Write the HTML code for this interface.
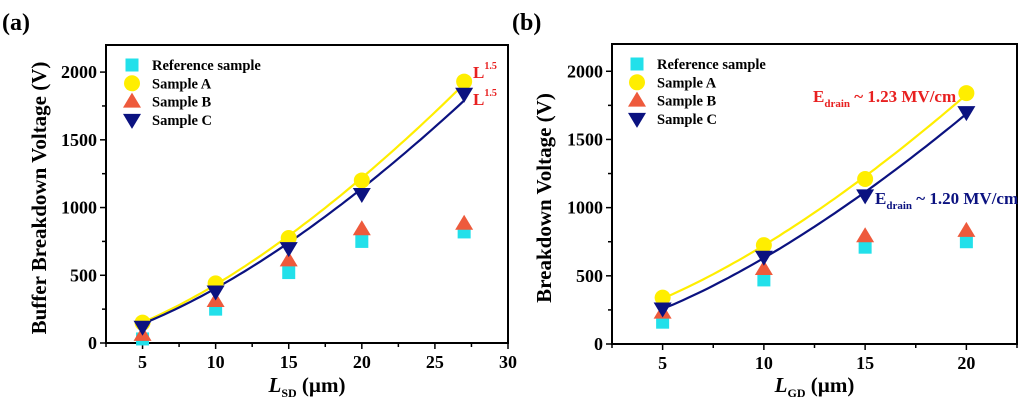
<!DOCTYPE html>
<html><head><meta charset="utf-8"><style>
body{margin:0;background:#fff;}
svg{display:block;font-family:"Liberation Serif",serif;font-weight:bold;}
</style></head><body>
<svg id="svg" width="1024" height="411" viewBox="0 0 1024 411" xmlns="http://www.w3.org/2000/svg">
<text x="2" y="30" font-size="24">(a)</text>
<text x="512" y="30" font-size="24">(b)</text>
</svg>
<script>
// Panel (a)
const xA = [5, 10, 15, 20, 27];
const refA = [30, 250, 520, 750, 820];
const sampleAA = [150, 440, 775, 1200, 1930];
const sampleBA = [60, 310, 610, 840, 880];
const sampleCA = [120, 380, 700, 1100, 1840];
const xTicksA = [5, 10, 15, 20, 25, 30];
// Panel (b)
const xB = [5, 10, 15, 20];
const refB = [160, 470, 710, 750];
const sampleAB = [340, 725, 1210, 1840];
const sampleBB = [230, 550, 790, 830];
const sampleCB = [260, 640, 1090, 1700];
const xTicksB = [5, 10, 15, 20];
const yTicks = [0, 500, 1000, 1500, 2000];
const legendLabels = ['Reference sample', 'Sample A', 'Sample B', 'Sample C'];

const NS = 'http://www.w3.org/2000/svg';
const svg = document.getElementById('svg');
function mk(tag, attrs, parent, text) {
  const e = document.createElementNS(NS, tag);
  for (const k in attrs) e.setAttribute(k, attrs[k]);
  if (text !== undefined) e.textContent = text;
  (parent || svg).appendChild(e);
  return e;
}
const CYAN = '#22e0ea', YEL = '#ffee00', RED = '#ee5a3c', NAVY = '#0b1280';

function marker(g, type, cx, cy, name) {
  let e;
  if (type === 'sq') e = mk('rect', {x: cx - 6.5, y: cy - 6.5, width: 13, height: 13, fill: CYAN}, g);
  else if (type === 'ci') e = mk('circle', {cx: cx, cy: cy, r: 8, fill: YEL}, g);
  else if (type === 'up') e = mk('polygon', {points: `${cx},${cy - 9} ${cx - 9},${cy + 6} ${cx + 9},${cy + 6}`, fill: RED}, g);
  else e = mk('polygon', {points: `${cx - 9},${cy - 6} ${cx + 9},${cy - 6} ${cx},${cy + 9}`, fill: NAVY}, g);
  
  
  return e;
}

function fit(xs, ys, withB) {
  const u = xs.map(x => Math.pow(x, 1.5));
  if (!withB) {
    let num = 0, den = 0;
    u.forEach((v, i) => { num += v * ys[i]; den += v * v; });
    return {a: num / den, b: 0};
  }
  const n = u.length, mu = u.reduce((s, v) => s + v, 0) / n, my = ys.reduce((s, v) => s + v, 0) / n;
  let sxy = 0, sxx = 0;
  u.forEach((v, i) => { sxy += (v - mu) * (ys[i] - my); sxx += (v - mu) * (v - mu); });
  const a = sxy / sxx;
  return {a: a, b: my - a * mu};
}

function panel(o) {
  const g = mk('g', {});
  
  
  const X = v => o.L + (v - o.xmin) / (o.xmax - o.xmin) * (o.R - o.L);
  const Y = v => o.B - v / 2200 * (o.B - o.T);
  const frame = mk('rect', {x: o.L, y: o.T, width: o.R - o.L, height: o.B - o.T, fill: 'none', stroke: '#000', 'stroke-width': 2}, g);
  
  
  for (let v = o.xmin; v <= o.xmax + 0.01; v += 2.5) {
    const major = o.xTicks.includes(v);
    const t = mk('line', {x1: X(v), x2: X(v), y1: o.B, y2: o.B + (major ? 6 : 4), stroke: '#000', 'stroke-width': 1.5}, g);
    
    
  }
  o.xTicks.forEach(v => {
    const t = mk('text', {x: X(v), y: o.B + 25, 'font-size': 18, 'text-anchor': 'middle'}, g, v);
    
    
  });
  for (let v = 0; v <= 2200; v += 250) {
    const major = v % 500 === 0;
    const t = mk('line', {x1: o.L, x2: o.L - (major ? 6 : 4), y1: Y(v), y2: Y(v), stroke: '#000', 'stroke-width': 1.5}, g);
    
    
  }
  yTicks.forEach(v => {
    const t = mk('text', {x: o.L - 9, y: Y(v) + 6, 'font-size': 18, 'text-anchor': 'end'}, g, v);
    
    
  });
  const yt = mk('text', {x: 0, y: 0, 'font-size': 21, 'text-anchor': 'middle', transform: `translate(${o.yTitleX},${(o.T + o.B) / 2 + 4}) rotate(-90)`}, g, o.yTitle);
  
  
  const xt = mk('text', {x: (o.L + o.R) / 2, y: 392, 'font-size': 21, 'text-anchor': 'middle'}, g);
  
  
  mk('tspan', {'font-style': 'italic'}, xt, 'L');
  mk('tspan', {'font-size': 12, dy: 5}, xt, o.sub);
  mk('tspan', {dy: -5}, xt, ' (\u00b5m)');
  [[o.a, YEL, 'fit-curve-sample-a'], [o.c, NAVY, 'fit-curve-sample-c']].forEach(([ys, col, nm]) => {
    const f = fit(o.x, ys, o.withB);
    const x0 = o.x[0], x1 = o.x[o.x.length - 1];
    let d = '';
    for (let i = 0; i <= 60; i++) {
      const xv = x0 + (x1 - x0) * i / 60;
      d += (i ? 'L' : 'M') + X(xv).toFixed(1) + ',' + Y(f.a * Math.pow(xv, 1.5) + f.b).toFixed(1);
    }
    const p = mk('path', {d: d, fill: 'none', stroke: col, 'stroke-width': 2.2}, g);
    
    
  });
  o.x.forEach((xv, i) => {
    marker(g, 'sq', X(xv), Y(o.ref[i]), 'point-reference');
    marker(g, 'up', X(xv), Y(o.b[i]), 'point-sample-b');
    marker(g, 'ci', X(xv), Y(o.a[i]), 'point-sample-a');
    marker(g, 'dn', X(xv), Y(o.c[i]), 'point-sample-c');
  });
  const types = ['sq', 'ci', 'up', 'dn'];
  legendLabels.forEach((lab, i) => {
    const lg = mk('g', {}, g);
    
    
    const yy = o.legY + i * 18.3;
    marker(lg, types[i], o.legX, yy, 'legend-marker');
    const t = mk('text', {x: o.legX + 20, y: yy + 5, 'font-size': 14.5}, lg, lab);
    
    
  });
  return {X, Y, g};
}

const pa = panel({name: 'panel-a-chart', L: 106, R: 508, T: 45, B: 343, xmin: 2.5, xmax: 30, xTicks: xTicksA,
  x: xA, ref: refA, a: sampleAA, b: sampleBA, c: sampleCA, withB: false,
  yTitle: 'Buffer Breakdown Voltage (V)', yTitleX: 46, sub: 'SD', legX: 132, legY: 65});
const pb = panel({name: 'panel-b-chart', L: 612, R: 1017, T: 44, B: 344, xmin: 2.5, xmax: 22.5, xTicks: xTicksB,
  x: xB, ref: refB, a: sampleAB, b: sampleBB, c: sampleCB, withB: true,
  yTitle: 'Breakdown Voltage (V)', yTitleX: 551, sub: 'GD', legX: 637, legY: 64});

function ann(parent, x, y, main, sub, rest, col, name, supMode) {
  const t = mk('text', {x: x, y: y, 'font-size': 17, fill: col}, parent);
  
  
  mk('tspan', {}, t, main);
  if (supMode) { mk('tspan', {'font-size': 10, dy: -9}, t, sub); }
  else { mk('tspan', {'font-size': 11, dy: 5}, t, sub); mk('tspan', {dy: -5}, t, rest); }
}
ann(pa.g, 473, 78, 'L', '1.5', '', '#e82020', 'annotation-sample-a-exponent', true);
ann(pa.g, 473, 105, 'L', '1.5', '', '#e82020', 'annotation-sample-c-exponent', true);
ann(pb.g, 813, 102, 'E', 'drain', ' ~ 1.23 MV/cm', '#e82020', 'annotation-sample-a-field', false);
ann(pb.g, 875, 204, 'E', 'drain', ' ~ 1.20 MV/cm', NAVY, 'annotation-sample-c-field', false);
</script>
</body></html>
